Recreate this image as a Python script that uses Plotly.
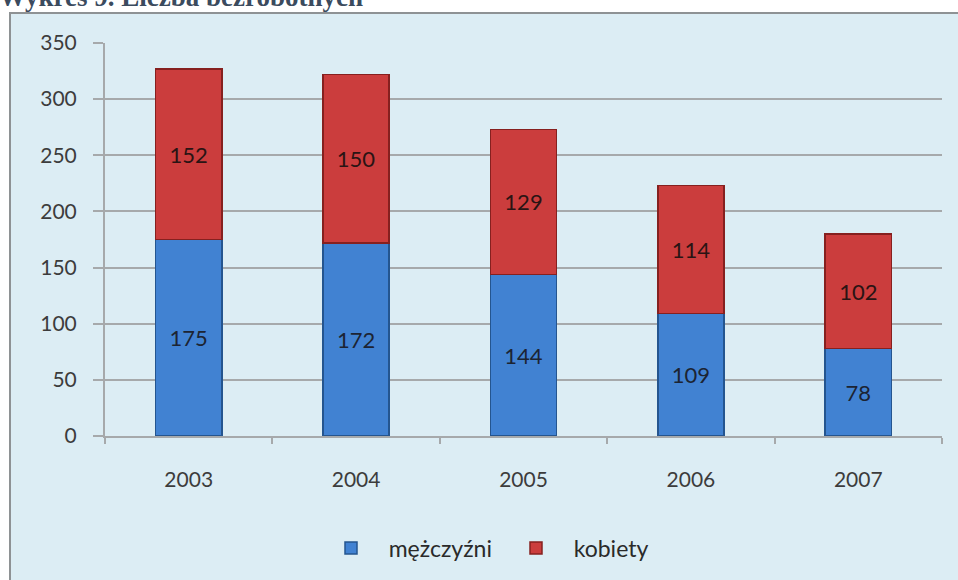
import plotly.graph_objects as go

# dane
lata = ["2003", "2004", "2005", "2006", "2007"]
mezczyzni = [175, 172, 144, 109, 78]
kobiety = [152, 150, 129, 114, 102]

tlo = "#dcedf4"
szary = "#a6a9ab"
tekst = "#3c3c3c"
odstep = "\u00a0" * 3

fig = go.Figure()
fig.add_trace(go.Bar(
    x=lata, y=mezczyzni, name=odstep + "mężczyźni",
    marker=dict(color="#4182d2", line=dict(color="#24558f", width=1.5)),
    text=mezczyzni, textposition="inside", insidetextanchor="middle",
    textfont=dict(color="#1c2433", size=22),
))
fig.add_trace(go.Bar(
    x=lata, y=kobiety, name=odstep + "kobiety",
    marker=dict(color="#cb3d3d", line=dict(color="#86201f", width=1.5)),
    text=kobiety, textposition="inside", insidetextanchor="middle",
    textfont=dict(color="#2a1414", size=22),
))

L, R, T, B = 105, 16, 43, 143
W, H = 958 - L - R, 580 - T - B
px = lambda p: (p - L) / W
py = lambda p: (580 - B - p) / H

# ramka wykresu
fig.add_shape(type="rect", xref="paper", yref="paper", layer="below",
              x0=px(10), x1=px(980), y0=py(600), y1=py(13),
              fillcolor=tlo, line=dict(color="#8e9294", width=2))

fig.add_annotation(text="<b>Wykres 9. Liczba bezrobotnych</b>",
                   xref="paper", yref="paper", x=px(-3), y=py(14),
                   xanchor="left", yanchor="bottom", showarrow=False,
                   font=dict(family="Liberation Serif", size=27, color="#3b4b5e"))

fig.update_layout(
    width=958, height=580,
    margin=dict(l=L, r=R, t=T, b=B),
    barmode="stack", bargap=0.605,
    paper_bgcolor="white", plot_bgcolor="rgba(0,0,0,0)",
    font=dict(family="Lato", size=21, color=tekst),
    showlegend=True,
    legend=dict(orientation="h", traceorder="normal",
                x=px(331), y=py(548), xanchor="left", yanchor="middle",
                bgcolor="rgba(0,0,0,0)", font=dict(size=23, color="#2a2a2a"),
                entrywidth=140, itemwidth=30),
)
fig.update_yaxes(range=[0, 350], dtick=50, showgrid=True, gridcolor=szary, gridwidth=2,
                 zeroline=False, showline=True, linecolor=szary, linewidth=2,
                 ticks="outside", ticklen=10, tickcolor=szary, tickwidth=2,
                 ticklabelstandoff=12, fixedrange=True)
fig.update_xaxes(showline=True, linecolor=szary, linewidth=2, ticks="outside",
                 tickson="boundaries", ticklen=6, tickcolor=szary, tickwidth=2,
                 ticklabelstandoff=24, showgrid=False, fixedrange=True)

# bez marginesu strony
fig.write_html("out.html", config={"displayModeBar": False},
               post_script="document.body.style.margin='0';")
